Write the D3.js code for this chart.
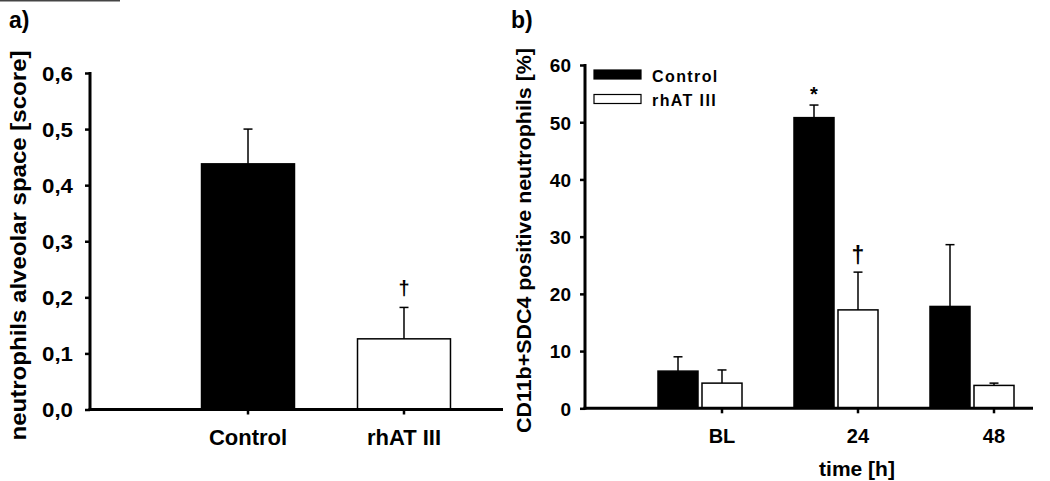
<!DOCTYPE html>
<html>
<head>
<meta charset="utf-8">
<script src="https://cdn.jsdelivr.net/npm/d3@7/dist/d3.min.js"></script>
<style>
  html, body { margin: 0; padding: 0; background: #fff; }
  svg { display: block; }
  text { font-family: "Liberation Sans", Arial, sans-serif; font-weight: bold; fill: #000; }
</style>
</head>
<body>
<svg id="chart" width="1050" height="481"></svg>
<script>
// ---------- Data ----------
// Panel a
const aCategories = ["Control", "rhAT III"];
const aValues = [0.438, 0.126];
const aErrors = [0.062, 0.056];        // upper SEM
const aTicks = [0, 0.1, 0.2, 0.3, 0.4, 0.5, 0.6];
const aTickLabels = ["0,0", "0,1", "0,2", "0,3", "0,4", "0,5", "0,6"];
const aMarks = ["", "\u2020"];

// Panel b
const bTimes = ["BL", "24", "48"];
const bSeries = ["Control", "rhAT III"];
const bControl = [6.5, 50.8, 17.8];
const bControlErr = [2.5, 2.2, 10.8];
const bRhat = [4.4, 17.2, 4.0];
const bRhatErr = [2.3, 6.6, 0.4];
const bTicks = [0, 10, 20, 30, 40, 50, 60];
const bMarksControl = ["", "*", ""];
const bMarksRhat = ["", "\u2020", ""];

const fills = { "Control": "#000", "rhAT III": "#fff" };

const svg = d3.select("#chart");

// partial frame line at top-left
svg.append("rect").attr("x", 0).attr("y", 0).attr("width", 120).attr("height", 1.5).attr("fill", "#444");

// ================= Panel a =================
{
  const g = svg.append("g");
  const y = d3.scaleLinear().domain([0, 0.6]).range([409.5, 73]);
  const x = d3.scaleBand().domain(aCategories).range([138.5, 513.5]).padding(0.404);
  const xL = 90, xR = 503;

  // bars
  aCategories.forEach((c, i) => {
    g.append("rect")
      .attr("x", x(c)).attr("y", y(aValues[i]))
      .attr("width", x.bandwidth()).attr("height", y(0) - y(aValues[i]))
      .attr("fill", fills[c]).attr("stroke", "#000").attr("stroke-width", 1.5);
    const cx = x(c) + x.bandwidth() / 2;
    const top = y(aValues[i] + aErrors[i]);
    g.append("line").attr("x1", cx).attr("x2", cx).attr("y1", y(aValues[i])).attr("y2", top)
      .attr("stroke", "#000").attr("stroke-width", 1.5);
    g.append("line").attr("x1", cx - 4.5).attr("x2", cx + 4.5).attr("y1", top).attr("y2", top)
      .attr("stroke", "#000").attr("stroke-width", 1.5);
    if (aMarks[i]) {
      g.append("text").attr("x", cx).attr("y", top - 12).attr("text-anchor", "middle")
        .style("font-size", "20px").text(aMarks[i]);
    }
  });

  // y axis
  const yAxis = d3.axisLeft(y).tickValues(aTicks).tickSize(5).tickPadding(12)
    .tickFormat((d, i) => aTickLabels[i]);
  const ya = g.append("g").attr("transform", `translate(${xL},0)`).call(yAxis);
  ya.select(".domain").remove();
  ya.selectAll(".tick line").attr("stroke", "#000").attr("stroke-width", 2.5);
  ya.selectAll(".tick text").style("font-size", "20px").attr("dy", "0.36em")
    .attr("textLength", 31).attr("lengthAdjust", "spacingAndGlyphs");
  g.append("line").attr("x1", xL).attr("x2", xL).attr("y1", y(0.6) - 1).attr("y2", y(0) + 1.5)
    .attr("stroke", "#000").attr("stroke-width", 3);

  // x axis
  const xa = g.append("g").attr("transform", `translate(0,${y(0)})`)
    .call(d3.axisBottom(x).tickSize(5).tickPadding(15));
  xa.select(".domain").remove();
  xa.selectAll(".tick line").attr("stroke", "#000").attr("stroke-width", 2.5);
  xa.selectAll(".tick text").style("font-size", "22px");
  g.append("line").attr("x1", xL - 1.5).attr("x2", xR).attr("y1", y(0)).attr("y2", y(0))
    .attr("stroke", "#000").attr("stroke-width", 3);

  // y title
  g.append("text").attr("transform", "translate(26,245.5) rotate(-90)")
    .attr("text-anchor", "middle").style("font-size", "22px")
    .attr("textLength", 390).attr("lengthAdjust", "spacingAndGlyphs")
    .text("neutrophils alveolar space [score]");

  g.append("text").attr("x", 9).attr("y", 28).style("font-size", "23px").text("a)");
}

// ================= Panel b =================
{
  const g = svg.append("g");
  const y = d3.scaleLinear().domain([0, 60]).range([408.3, 65]);
  const x0 = d3.scaleBand().domain(bTimes).range([626, 1034]).padding(0);
  const x1 = d3.scaleBand().domain(bSeries).range([32, 116]).paddingInner(0.0909);
  const xL = 585, xR = 1033;

  const rows = bTimes.map((t, i) => ({
    t,
    vals: [
      { s: "Control", v: bControl[i], e: bControlErr[i], m: bMarksControl[i] },
      { s: "rhAT III", v: bRhat[i], e: bRhatErr[i], m: bMarksRhat[i] }
    ]
  }));

  rows.forEach(r => {
    r.vals.forEach(d => {
      const bx = x0(r.t) + x1(d.s);
      g.append("rect").attr("x", bx).attr("y", y(d.v))
        .attr("width", x1.bandwidth()).attr("height", y(0) - y(d.v))
        .attr("fill", fills[d.s]).attr("stroke", "#000").attr("stroke-width", 1.5);
      const cx = bx + x1.bandwidth() / 2;
      const top = y(d.v + d.e);
      g.append("line").attr("x1", cx).attr("x2", cx).attr("y1", y(d.v)).attr("y2", top)
        .attr("stroke", "#000").attr("stroke-width", 1.5);
      g.append("line").attr("x1", cx - 4.5).attr("x2", cx + 4.5).attr("y1", top).attr("y2", top)
        .attr("stroke", "#000").attr("stroke-width", 1.5);
      if (d.m === "*") {
        g.append("text").attr("x", cx).attr("y", top - 4).attr("text-anchor", "middle")
          .style("font-size", "20px").text(d.m);
      } else if (d.m) {
        g.append("text").attr("x", cx).attr("y", top - 9).attr("text-anchor", "middle")
          .style("font-size", "23px").text(d.m);
      }
    });
  });

  // y axis
  const ya = g.append("g").attr("transform", `translate(${xL},0)`)
    .call(d3.axisLeft(y).tickValues(bTicks).tickSize(5).tickPadding(9));
  ya.select(".domain").remove();
  ya.selectAll(".tick line").attr("stroke", "#000").attr("stroke-width", 2.5);
  ya.selectAll(".tick text").style("font-size", "19px").attr("dy", "0.36em");
  g.append("line").attr("x1", xL).attr("x2", xL).attr("y1", y(60) - 1).attr("y2", y(0) + 1.5)
    .attr("stroke", "#000").attr("stroke-width", 3);

  // x axis: ticks sit under the rhAT III bar of each group
  const tickX = t => x0(t) + x1("rhAT III") + x1.bandwidth() / 2;
  const xa = g.append("g").attr("transform", `translate(0,${y(0)})`);
  bTimes.forEach(t => {
    xa.append("line").attr("x1", tickX(t)).attr("x2", tickX(t)).attr("y1", 0).attr("y2", 5)
      .attr("stroke", "#000").attr("stroke-width", 2.5);
    xa.append("text").attr("x", tickX(t)).attr("y", 35).attr("text-anchor", "middle")
      .style("font-size", "20px").text(t);
  });
  g.append("line").attr("x1", xL - 1.5).attr("x2", xR).attr("y1", y(0)).attr("y2", y(0))
    .attr("stroke", "#000").attr("stroke-width", 3);

  // titles
  g.append("text").attr("x", 857).attr("y", 476).attr("text-anchor", "middle")
    .style("font-size", "21px").text("time [h]");
  g.append("text").attr("transform", "translate(531,240.5) rotate(-90)")
    .attr("text-anchor", "middle").style("font-size", "21px")
    .attr("textLength", 385).attr("lengthAdjust", "spacingAndGlyphs")
    .text("CD11b+SDC4 positive neutrophils [%]");
  g.append("text").attr("x", 511).attr("y", 28).style("font-size", "23px").text("b)");

  // legend
  const lg = g.append("g");
  bSeries.forEach((s, i) => {
    const ly = 70 + i * 24.5;
    lg.append("rect").attr("x", 594).attr("y", ly).attr("width", 47).attr("height", 9)
      .attr("fill", fills[s]).attr("stroke", "#000").attr("stroke-width", 1.2);
    lg.append("text").attr("x", 652).attr("y", ly + 11.5).style("font-size", "16px")
      .style("letter-spacing", "1.4px").text(s);
  });
}
</script>
</body>
</html>
